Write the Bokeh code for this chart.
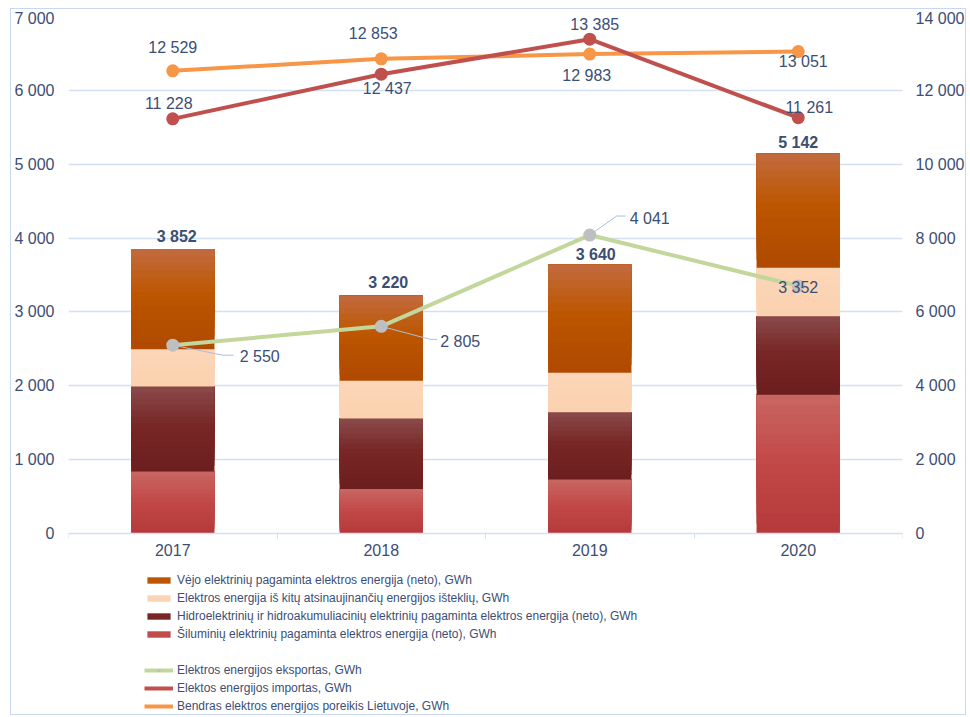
from bokeh.plotting import figure
from bokeh.models import (Range1d, LinearAxis, FixedTicker, CustomJSTickFormatter,
                          Legend, LegendItem)
from bokeh.core.properties import value
from bokeh.embed import file_html
from bokeh.resources import INLINE

# ---------------- data ----------------
years = ["2017", "2018", "2019", "2020"]
thermal = [838, 603, 730, 1878]       # Šiluminių elektrinių
hydro = [1153, 955, 913, 1063]        # Hidro ir hidroakumuliacinių
other_res = [504, 509, 533, 658]      # kiti atsinaujinantys ištekliai
wind = [1357, 1153, 1464, 1543]       # Vėjo elektrinių
totals = [3852, 3220, 3640, 5142]
export = [2550, 2805, 4041, 3352]
imports = [11228, 12437, 13385, 11261]
demand = [12529, 12853, 12983, 13051]

left_ticks = [0, 1000, 2000, 3000, 4000, 5000, 6000, 7000]
right_ticks = [0, 2000, 4000, 6000, 8000, 10000, 12000, 14000]

series_names = [
    "Vėjo elektrinių pagaminta elektros energija (neto), GWh",
    "Elektros energija iš kitų atsinaujinančių energijos išteklių, GWh",
    "Hidroelektrinių ir hidroakumuliacinių elektrinių pagaminta elektros energija (neto), GWh",
    "Šiluminių elektrinių pagaminta elektros energija (neto), GWh",
    "Elektros energijos eksportas, GWh",
    "Elektos energijos importas, GWh",
    "Bendras elektros energijos poreikis Lietuvoje, GWh",
]

# ---------------- style ----------------
TXT = "#3B4E74"
GRID = "#D3E0F1"
# gradient stops (top, middle, bottom) for each stacked series
G_THERM = ("#C96763", "#C24A48", "#B6393A")
G_HYDRO = ("#8A4B4B", "#782726", "#6C1D1D")
G_OTHER = ("#FCD6B8", "#FBD4B4", "#FBD2B0")
G_WIND = ("#C26B40", "#BC5600", "#AF4900")
C_EXP = "#C3D69B"
C_EXP_M = "#BFBFBF"
C_IMP = "#C0504D"
C_DEM = "#F79646"
FONT = "Liberation Sans"

W, H = 956, 707
BL, BR, BT, BB = 56, 65, 7, 0
FW = W - BL - BR
FH_ALL = H - BT - BB          # frame also hosts the legend area below the bars
FH = 517                      # pixel height of the 0..7000 band
XMIN, XMAX = -0.5, 3.5
YMAX_L, YMAX_R = 7000, 14000
YMIN_L = -(FH_ALL - FH) * YMAX_L / FH
YMIN_R = YMIN_L * YMAX_R / YMAX_L
px_x = FW / (XMAX - XMIN)
px_yl = FH / YMAX_L
NSLICE = 14


def fmt(v):
    return f"{v:,}".replace(",", " ")


def hex2rgb(h):
    return [int(h[i:i + 2], 16) for i in (1, 3, 5)]


def grad(stops, f):
    """f = 0 at the top, 1 at the bottom."""
    a, m, b = (hex2rgb(s) for s in stops)
    if f < 0.45:
        t = f / 0.45
        c = [a[k] + (m[k] - a[k]) * t for k in range(3)]
    else:
        t = (f - 0.45) / 0.55
        c = [m[k] + (b[k] - m[k]) * t for k in range(3)]
    return "#%02x%02x%02x" % tuple(int(round(v)) for v in c)


xs = list(range(len(years)))

p = figure(width=W, height=H,
           x_range=Range1d(XMIN, XMAX), y_range=Range1d(YMIN_L, YMAX_L),
           output_backend="svg", toolbar_location=None,
           min_border_left=BL, min_border_right=BR, min_border_top=BT,
           min_border_bottom=BB)
p.margin = (8, 0, 0, 10)
p.styles = {"border": "1px solid #C8D9EF"}
p.extra_y_ranges = {"r": Range1d(YMIN_R, YMAX_R)}
p.outline_line_color = None
p.background_fill_color = "white"
p.border_fill_color = "white"

# x axis drawn at y = 0
p.xaxis.fixed_location = 0
p.xaxis.ticker = FixedTicker(ticks=xs, minor_ticks=[-0.5, 0.5, 1.5, 2.5, 3.5])
p.xaxis.major_label_overrides = {i: y for i, y in enumerate(years)}
p.xaxis.major_tick_line_color = None
p.xaxis.major_tick_out = 0
p.xaxis.minor_tick_out = 5
p.xaxis.minor_tick_in = 0
p.xaxis.minor_tick_line_color = GRID
p.xaxis.axis_line_color = GRID
p.xaxis.axis_line_width = 1.5
p.xaxis.major_label_standoff = 5

formatter = CustomJSTickFormatter(
    code="return tick.toFixed(0).replace(/\\B(?=(\\d{3})+(?!\\d))/g, ' ');")
p.yaxis.ticker = FixedTicker(ticks=left_ticks)
p.yaxis.formatter = formatter
p.yaxis.axis_line_color = None
p.yaxis.major_tick_line_color = None
p.yaxis.minor_tick_line_color = None
p.yaxis.major_tick_out = 0
p.yaxis.minor_tick_out = 0
p.yaxis.major_label_standoff = 14

raxis = LinearAxis(y_range_name="r", ticker=FixedTicker(ticks=right_ticks),
                   formatter=formatter)
raxis.axis_line_color = None
raxis.major_tick_line_color = None
raxis.minor_tick_line_color = None
raxis.major_tick_out = 0
raxis.minor_tick_out = 0
raxis.major_label_standoff = 13
p.add_layout(raxis, "right")

for ax in [p.xaxis[0], p.yaxis[0], raxis]:
    ax.major_label_text_font = FONT
    ax.major_label_text_font_size = "16px"
    ax.major_label_text_color = TXT

p.xgrid.grid_line_color = None
p.ygrid.ticker = FixedTicker(ticks=left_ticks[1:])
p.ygrid.grid_line_color = GRID
p.ygrid.grid_line_width = 1.5

# stacked bars; each segment is painted as overlapping layers (bottom first,
# each reaching the segment top) to imitate the vertical colour gradient
stack = [(thermal, G_THERM), (hydro, G_HYDRO), (other_res, G_OTHER), (wind, G_WIND)]
base = [0] * len(xs)
legend_bar = []
for vals, stops in stack:
    tops = [b + v for b, v in zip(base, vals)]
    rep = None
    for j in range(NSLICE):
        y0 = [b + (t - b) * j / NSLICE for b, t in zip(base, tops)]
        col = grad(stops, 1 - (j + 0.5) / NSLICE)
        r = p.vbar(x=xs, bottom=y0, top=tops, width=0.4, fill_color=col,
                   line_color=None)
        if j == NSLICE // 2:
            rep = r
    legend_bar.append(rep)
    base = tops

# bar totals
p.text(x=xs, y=totals, text=[fmt(v) for v in totals],
       x_offset=[4, 7, 6, 0], y_offset=[-13, -13, -10, -11],
       text_align="center", text_baseline="middle",
       text_font=value(FONT), text_font_size="16px", text_font_style="bold",
       text_color=TXT)

# export line (left axis)
exp_line = p.line(xs, export, line_color=C_EXP, line_width=4)
exp_pts = p.scatter(xs, export, size=13, fill_color=C_EXP_M, line_color=None)

# leader lines for export labels (pixel paths converted to data units)
leaders = {0: [(0, 0), (50, 10), (61, 10)],
           1: [(0, 0), (49, 13), (56, 13)],
           2: [(0, 0), (27, -19), (36, -19)]}
lx, ly = [], []
for i, path in leaders.items():
    lx.append([xs[i] + dx / px_x for dx, dy in path])
    ly.append([export[i] - dy / px_yl for dx, dy in path])
p.multi_line(lx, ly, line_color="#A9C0DE", line_width=1)

# demand & import (right axis)
dem_line = p.line(xs, demand, line_color=C_DEM, line_width=4, y_range_name="r")
dem_pts = p.scatter(xs, demand, size=13, fill_color=C_DEM, line_color=None,
                    y_range_name="r")
imp_line = p.line(xs, imports, line_color=C_IMP, line_width=4, y_range_name="r")
imp_pts = p.scatter(xs, imports, size=13, fill_color=C_IMP, line_color=None,
                    y_range_name="r")

common = dict(text_align="center", text_baseline="middle",
              text_font=value(FONT), text_font_size="16px", text_color=TXT)
p.text(x=xs, y=export, text=[fmt(v) for v in export],
       x_offset=[87, 79, 60, 0], y_offset=[11, 15, -17, 2], **common)
p.text(x=xs, y=demand, text=[fmt(v) for v in demand],
       x_offset=[0, -8, -3, 5], y_offset=[-23, -25, 21, 10],
       y_range_name="r", **common)
p.text(x=xs, y=imports, text=[fmt(v) for v in imports],
       x_offset=[-4, 6, 5, 11], y_offset=[-15, 14, -15, -10],
       y_range_name="r", **common)

# invisible spacer renderer for the blank legend row
spacer = p.line([], [], line_alpha=0)

items = [LegendItem(label=series_names[0], renderers=[legend_bar[3]]),
         LegendItem(label=series_names[1], renderers=[legend_bar[2]]),
         LegendItem(label=series_names[2], renderers=[legend_bar[1]]),
         LegendItem(label=series_names[3], renderers=[legend_bar[0]]),
         LegendItem(label=" ", renderers=[spacer]),
         LegendItem(label=series_names[4], renderers=[exp_line, exp_pts]),
         LegendItem(label=series_names[5], renderers=[imp_line, imp_pts]),
         LegendItem(label=series_names[6], renderers=[dem_line, dem_pts])]

lg = Legend(items=items, location=(76, 2), orientation="vertical",
            margin=0, padding=0, spacing=1, label_height=17,
            glyph_height=8, glyph_width=29, label_standoff=4,
            border_line_color=None, background_fill_alpha=0,
            label_text_font=FONT,
            label_text_font_size="12px", label_text_color=TXT)
p.add_layout(lg, "center")

open("out.html", "w").write(file_html(p, INLINE))
